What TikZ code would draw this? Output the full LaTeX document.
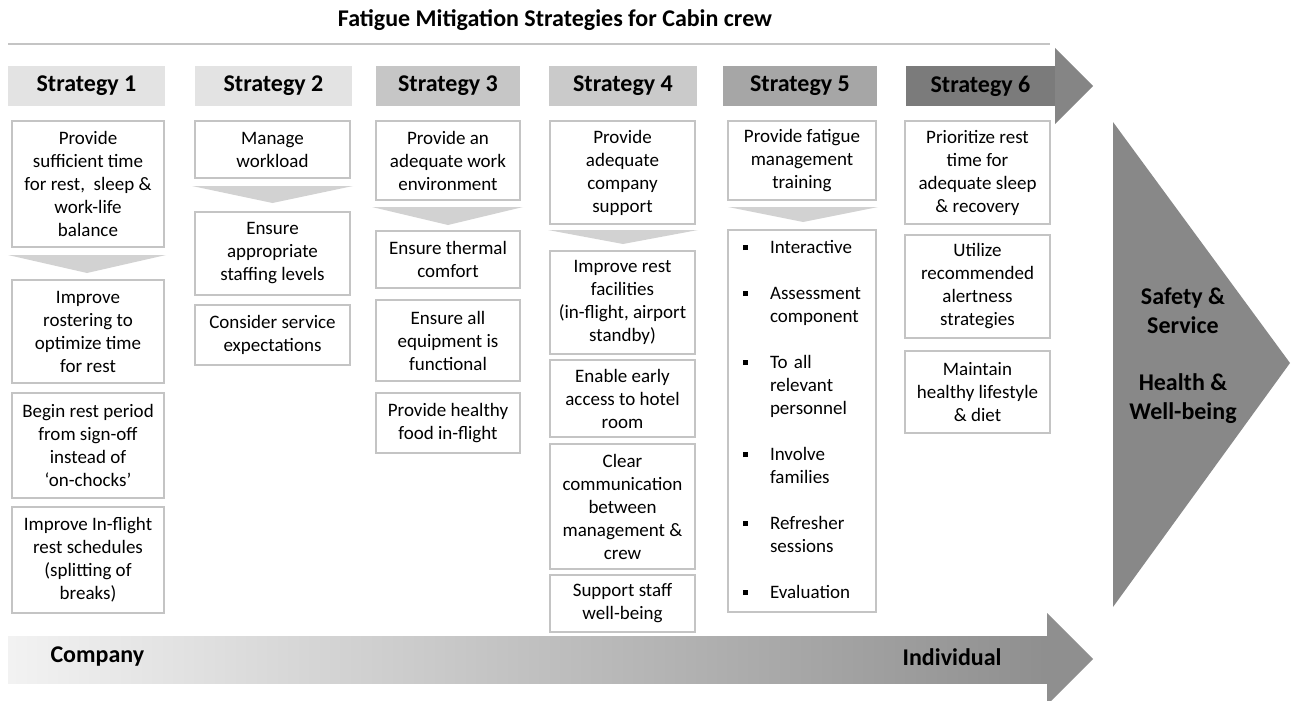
\documentclass[tikz,border=0pt]{standalone}
\usepackage{fontspec}
\setmainfont{Carlito}
\usepackage{tikz}

\definecolor{boxline}{HTML}{C4C4C4}
\definecolor{chevgray}{HTML}{D2D2D2}
\definecolor{hdA}{HTML}{E3E3E3}
\definecolor{hdB}{HTML}{E3E3E3}
\definecolor{hdC}{HTML}{C6C6C6}
\definecolor{hdD}{HTML}{CACACA}
\definecolor{hdE}{HTML}{A6A6A6}
\definecolor{hdF}{HTML}{7B7B7B}
\definecolor{tipgray}{HTML}{858585}
\definecolor{goalgray}{HTML}{888888}

\newcommand{\boxfont}{\fontsize{19}{23}\selectfont}
\newcommand{\headfont}{\fontsize{24}{29}\selectfont\bfseries}
\newcommand{\sqbul}{\rule[3pt]{5pt}{5pt}}

\begin{document}
\begin{tikzpicture}[x=1pt, y=-1pt,
  box/.style={draw=boxline, line width=2.2pt, fill=white, align=center,
    inner sep=0pt, font=\boxfont},
  head/.style={inner sep=0pt, minimum height=40pt, font=\headfont},
  wh/.style 2 args={minimum width=#1, minimum height=#2},
  chev/.style={fill=chevgray}]
  \useasboundingbox (0,0) rectangle (1291,701);

  \node[font=\headfont] (title) at (555,20) {Fatigue Mitigation Strategies for Cabin crew};
  \draw[boxline, line width=1.5pt] (8,44) -- (1050,44);
  \fill[tipgray] (1055,48) -- (1093,86) -- (1055,124) -- cycle;

  % strategy headers
  \node[head, fill=hdA, minimum width=157pt] (h1) at (86.5,86) {Strategy 1};
  \node[head, fill=hdB, minimum width=157pt] (h2) at (273.5,86) {Strategy 2};
  \node[head, fill=hdC, minimum width=144pt] (h3) at (448,86) {Strategy 3};
  \node[head, fill=hdD, minimum width=148pt] (h4) at (623,86) {Strategy 4};
  \node[head, fill=hdE, minimum width=154pt] (h5) at (800,86) {Strategy 5};
  \node[head, fill=hdF, minimum width=149pt] (h6) at (980.5,86) {Strategy 6};

  % strategy 1
  \node[box, wh={152pt}{126pt}] (s1a) at (88,184) {Provide\\sufficient time\\for rest,~ sleep \&\\work-life\\balance};
  \fill[chev] (8,255) -- (166,255) -- (87,273) -- cycle;
  \node[box, wh={152pt}{103pt}] (s1b) at (88,331.5) {Improve\\rostering to\\optimize time\\for rest};
  \node[box, wh={152pt}{105pt}] (s1c) at (88,445.5) {Begin rest period\\from sign-off\\instead of\\`on-chocks'};
  \node[box, wh={152pt}{106pt}] (s1d) at (88,560) {Improve In-flight\\rest schedules\\(splitting of\\breaks)};

  % strategy 2
  \node[box, wh={155pt}{57pt}] (s2a) at (272.5,149.5) {Manage\\workload};
  \fill[chev] (192,186) -- (353,186) -- (272.5,203) -- cycle;
  \node[box, wh={155pt}{83pt}] (s2b) at (272.5,253.5) {Ensure\\appropriate\\staffing levels};
  \node[box, wh={155pt}{60pt}] (s2c) at (272.5,335) {Consider service\\expectations};

  % strategy 3
  \node[box, wh={144pt}{79pt}] (s3a) at (448,160.5) {Provide an\\adequate work\\environment};
  \fill[chev] (372,207) -- (523,207) -- (448,225) -- cycle;
  \node[box, wh={144pt}{57pt}] (s3b) at (448,259.5) {Ensure thermal\\comfort};
  \node[box, wh={144pt}{81pt}] (s3c) at (448,340.5) {Ensure all\\equipment is\\functional};
  \node[box, wh={144pt}{60pt}] (s3d) at (448,423) {Provide healthy\\food in-flight};

  % strategy 4
  \node[box, wh={145pt}{103pt}] (s4a) at (622.5,172.5) {Provide\\adequate\\company\\support};
  \fill[chev] (548,230) -- (698,230) -- (623,244) -- cycle;
  \node[box, wh={145pt}{103pt}] (s4b) at (622.5,302.5) {Improve rest\\facilities\\(in-flight, airport\\standby)};
  \node[box, wh={145pt}{77pt}] (s4c) at (622.5,398.5) {Enable early\\access to hotel\\room};
  \node[box, wh={145pt}{125pt}] (s4d) at (622.5,506.5) {Clear\\communication\\between\\management \&\\crew};
  \node[box, wh={145pt}{57pt}] (s4e) at (622.5,603.5) {Support staff\\well-being};

  % strategy 5
  \node[box, wh={148pt}{79pt}] (s5a) at (802,160.5) {Provide fatigue\\management\\training};
  \fill[chev] (728,207) -- (878,207) -- (803,222) -- cycle;
  \node[box, wh={148pt}{382pt}, text width=118pt, align=left] (s5b) at (802,421) {%
    \begin{tabular}{@{}p{27pt}@{}l@{}}
      \sqbul & Interactive\\[23pt]
      \sqbul & Assessment\\ & component\\[23pt]
      \sqbul & To all\\ & relevant\\ & personnel\\[23pt]
      \sqbul & Involve\\ & families\\[23pt]
      \sqbul & Refresher\\ & sessions\\[23pt]
      \sqbul & Evaluation
    \end{tabular}};

  % strategy 6
  \node[box, wh={145pt}{103pt}] (s6a) at (977.5,172.5) {Prioritize rest\\time for\\adequate sleep\\\& recovery};
  \node[box, wh={145pt}{103pt}] (s6b) at (977.5,286.5) {Utilize\\recommended\\alertness\\strategies};
  \node[box, wh={145pt}{82pt}] (s6c) at (977.5,392) {Maintain\\healthy lifestyle\\\& diet};

  % outcome
  \fill[goalgray] (1113,122) -- (1290,363) -- (1113,607) -- cycle;
  \node[font=\fontsize{24}{29}\selectfont\bfseries, align=center] (safety) at (1183,311) {Safety \&\\Service};
  \node[font=\fontsize{24}{29}\selectfont\bfseries, align=center] (health) at (1183,399) {Health \&\\Well-being};

  % company -> individual
  \shade[left color=black!5, right color=black!44] (8,636) rectangle (1048,683);
  \fill[black!44] (1047,613) -- (1093,659) -- (1047,705) -- cycle;
  \node[font=\headfont, anchor=west] (company) at (47,657) {Company};
  \node[font=\headfont, anchor=east] (individual) at (1005,657) {Individual};
\end{tikzpicture}
\end{document}
